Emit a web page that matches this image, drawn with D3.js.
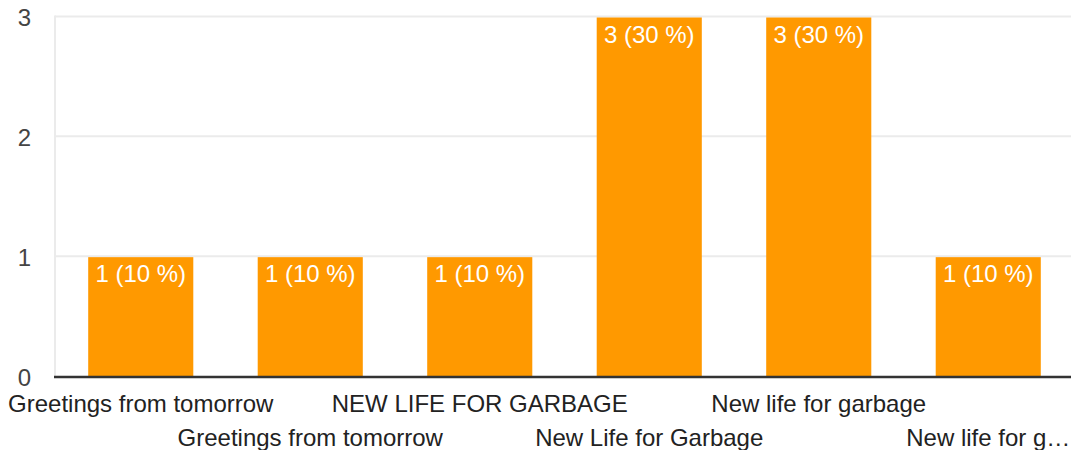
<!DOCTYPE html>
<html>
<head>
<meta charset="utf-8">
<script src="https://cdn.jsdelivr.net/npm/d3@7"></script>
<style>
  body { margin: 0; background: #fff; }
  text { font-family: Arial, "Liberation Sans", sans-serif; }
</style>
</head>
<body>
<div class="wrapper"></div>
<script>
const categories = ['Greetings from tomorrow', 'Greetings from tomorrow', 'NEW LIFE FOR GARBAGE',
  'New Life for Garbage', 'New life for garbage', 'New life for garbage ']
const counts = [1, 1, 1, 3, 3, 1]
const percents = [10, 10, 10, 30, 30, 10]
const yTicks = [0, 1, 2, 3]

const width = 1071,
  height = 450,
  fontSize = 24

const svg = d3.select('.wrapper')
  .append('svg')
  .attr('width', width)
  .attr('height', height)

const x = d3.scaleBand()
  .domain(d3.range(categories.length))
  .range([56, 1073])
  .paddingInner(0.38)
  .paddingOuter(0.19)

const y = d3.scaleLinear()
  .domain([0, 3])
  .range([376, 16.5])

// gridlines
svg.append('g')
  .selectAll('line')
  .data(yTicks.filter(d => d > 0))
  .join('line')
  .attr('x1', 55)
  .attr('x2', width)
  .attr('y1', d => y(d))
  .attr('y2', d => y(d))
  .attr('stroke', '#ebebeb')
  .attr('stroke-width', 2)

svg.append('line')
  .attr('x1', 55).attr('x2', 55)
  .attr('y1', y(3) - 1).attr('y2', y(0))
  .attr('stroke', '#ebebeb')
  .attr('stroke-width', 2)

// y tick labels
svg.append('g')
  .selectAll('text')
  .data(yTicks)
  .join('text')
  .attr('x', 31)
  .attr('y', d => y(d) + 9.5)
  .attr('text-anchor', 'end')
  .attr('font-size', fontSize)
  .attr('fill', '#444')
  .text(d => d)

// bars
svg.append('g')
  .selectAll('rect')
  .data(counts)
  .join('rect')
  .attr('x', (d, i) => x(i))
  .attr('width', x.bandwidth())
  .attr('y', d => y(d) + 1)
  .attr('height', d => y(0) - y(d) - 1)
  .attr('fill', '#ff9900')

// value labels
svg.append('g')
  .selectAll('text')
  .data(counts)
  .join('text')
  .attr('x', (d, i) => x(i) + x.bandwidth() / 2)
  .attr('y', d => y(d) + 26)
  .attr('text-anchor', 'middle')
  .attr('font-size', fontSize)
  .attr('fill', '#fff')
  .text((d, i) => `${d} (${percents[i]} %)`)

// baseline
svg.append('line')
  .attr('x1', 54)
  .attr('x2', width)
  .attr('y1', y(0) + 1)
  .attr('y2', y(0) + 1)
  .attr('stroke', '#333')
  .attr('stroke-width', 2.5)

// category labels, staggered on two rows
const labels = svg.append('g')
  .selectAll('text')
  .data(categories)
  .join('text')
  .attr('x', (d, i) => x(i) + x.bandwidth() / 2)
  .attr('y', (d, i) => i % 2 ? 445.5 : 412)
  .attr('text-anchor', 'middle')
  .attr('font-size', fontSize)
  .attr('fill', '#222')
  .text(d => d.trim())

// truncate labels that run off the right edge
labels.each(function (d, i) {
  const t = d3.select(this)
  const cx = x(i) + x.bandwidth() / 2
  let s = d.trim()
  while (s.length > 1 && cx + this.getComputedTextLength() / 2 > width + 3) {
    s = s.slice(0, -1).trimEnd()
    t.text(s + '…')
  }
})
</script>
</body>
</html>
